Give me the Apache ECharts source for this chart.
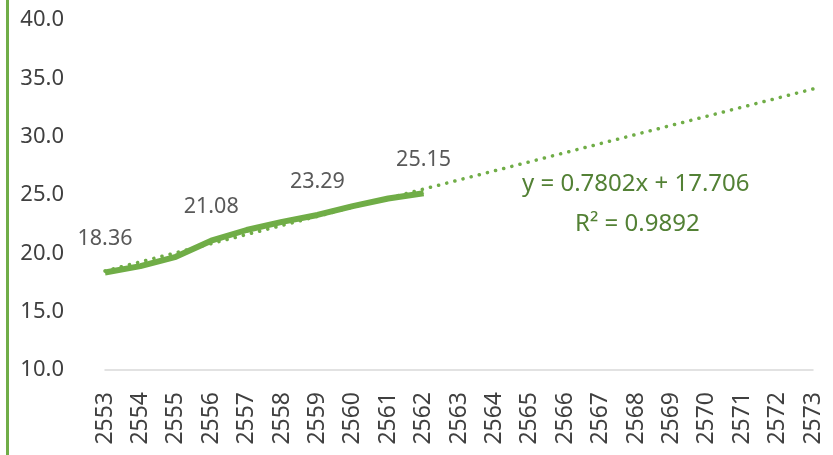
<!DOCTYPE html>
<html>
<head>
<meta charset="utf-8">
<script src="https://cdn.jsdelivr.net/npm/echarts@6/dist/echarts.min.js"></script>
<style>
  html, body { margin: 0; padding: 0; background: #fff; }
  #chart { width: 833px; height: 455px; }
</style>
</head>
<body>
<div id="chart"></div>
<script>
const years = ['2553', '2554', '2555', '2556', '2557', '2558', '2559', '2560', '2561', '2562',
  '2563', '2564', '2565', '2566', '2567', '2568', '2569', '2570', '2571', '2572', '2573'];
const actual = [18.36, 18.9, 19.7, 21.08, 22.0, 22.7, 23.29, 24.05, 24.7, 25.15];
// trendline end points (2553 and 2573)
const trend = [18.49, null, null, null, null, null, null, null, null, null,
  null, null, null, null, null, null, null, null, null, null, 34.09];
const labelYears = ['2553', '2556', '2559', '2562'];
const equationText = 'y = 0.7802x + 17.706';
const r2Text = 'R² = 0.9892';

const green = '#70AD47';
const font = 'Noto Sans';

const chart = echarts.init(document.getElementById('chart'));

const option = {
  animation: false,
  grid: { left: 105, right: 20, top: 20, bottom: 85 },
  xAxis: {
    type: 'category',
    data: years,
    boundaryGap: false,
    axisLine: { lineStyle: { color: '#d9d9d9', width: 1.5 } },
    axisTick: { show: false },
    axisLabel: {
      rotate: 90,
      color: '#404040',
      fontSize: 23,
      fontFamily: font,
      margin: 22,
      interval: 0
    }
  },
  yAxis: {
    type: 'value',
    min: 10,
    max: 40,
    interval: 5,
    axisLine: { show: false },
    axisTick: { show: false },
    splitLine: { show: false },
    axisLabel: {
      color: '#404040',
      fontSize: 22,
      fontFamily: font,
      margin: 41,
      formatter: v => v.toFixed(1)
    }
  },
  series: [
    {
      name: 'trend',
      type: 'line',
      data: trend,
      connectNulls: true,
      symbol: 'none',
      z: 3,
      lineStyle: { color: green, width: 3.5, type: [0.1, 8.3], cap: 'round' }
    },
    {
      name: 'actual',
      type: 'line',
      data: actual,
      symbol: 'circle',
      symbolSize: 1,
      showSymbol: true,
      z: 2,
      lineStyle: { color: green, width: 6 },
      itemStyle: { color: green },
      label: {
        show: true,
        position: 'top',
        distance: 22,
        color: '#595959',
        fontSize: 21.5,
        fontFamily: font,
        formatter: p => labelYears.includes(p.name) ? p.value.toFixed(2) : ''
      }
    }
  ],
  graphic: [
    {
      type: 'rect',
      shape: { x: 6, y: 0, width: 3, height: 455 },
      style: { fill: green }
    },
    {
      type: 'text',
      left: 522,
      top: 172,
      style: { text: equationText, fill: '#538135', fontSize: 24, fontFamily: font }
    },
    {
      type: 'text',
      left: 575,
      top: 212,
      style: { text: r2Text, fill: '#538135', fontSize: 24, fontFamily: font }
    }
  ]
};

chart.setOption(option);
</script>
</body>
</html>
